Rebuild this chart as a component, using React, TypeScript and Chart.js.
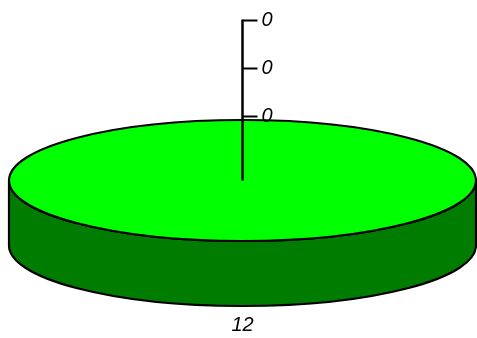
import React, { useEffect, useRef } from "react";
import { Chart, registerables } from "chart.js";

Chart.register(...registerables);

const categories = ["A", "B", "C", "D"];
const values = [12, 0, 0, 0];
const topColors = ["#00FF00", "#FF0000", "#0000FF", "#FFFF00"];
const sideColors = ["#007C00", "#7C0000", "#00007C", "#7C7C00"];

const SX = 233.5 / 157.5;
const SY = 60.5 / 157.5;
const SD = 65 / 157.5;

const pie3d = {
  id: "pie3d",
  afterDatasetsDraw(chart: any) {
    const ctx: CanvasRenderingContext2D = chart.ctx;
    const meta = chart.getDatasetMeta(0);
    const arcs = meta.data as any[];
    if (!arcs.length) return;
    const p0 = arcs[0].getProps(["x", "y", "outerRadius"], true);
    const cx = p0.x, cy = p0.y, R = p0.outerRadius;
    const rx = R * SX, ry = R * SY, depth = R * SD;
    ctx.save();
    ctx.lineWidth = 2.2;
    ctx.strokeStyle = "#000";
    ctx.lineJoin = "round";
    // sides (front half: angles 0..PI)
    arcs.forEach((arc, i) => {
      const p = arc.getProps(["startAngle", "endAngle"], true);
      if (p.endAngle - p.startAngle <= 0) return;
      for (const shift of [-2 * Math.PI, 0, 2 * Math.PI]) {
        const a = Math.max(p.startAngle, 0 + shift);
        const b = Math.min(p.endAngle, Math.PI + shift);
        if (b - a <= 1e-6) continue;
        ctx.beginPath();
        ctx.ellipse(cx, cy, rx, ry, 0, a, b, false);
        ctx.ellipse(cx, cy + depth, rx, ry, 0, b, a, true);
        ctx.closePath();
        ctx.fillStyle = sideColors[i % sideColors.length];
        ctx.fill();
        ctx.stroke();
      }
    });
    // tops
    arcs.forEach((arc, i) => {
      const p = arc.getProps(["startAngle", "endAngle"], true);
      const span = p.endAngle - p.startAngle;
      if (span <= 0) return;
      ctx.beginPath();
      if (span >= 2 * Math.PI - 1e-6) {
        ctx.ellipse(cx, cy, rx, ry, 0, 0, 2 * Math.PI);
      } else {
        ctx.moveTo(cx, cy);
        ctx.ellipse(cx, cy, rx, ry, 0, p.startAngle, p.endAngle, false);
        ctx.closePath();
      }
      ctx.fillStyle = topColors[i % topColors.length];
      ctx.fill();
      ctx.stroke();
    });
    // labels
    ctx.font = "italic 20px 'Liberation Sans', Arial, sans-serif";
    ctx.fillStyle = "#000";
    let zeroCount = 0;
    const zeroYs: number[] = [];
    arcs.forEach((arc, i) => {
      const p = arc.getProps(["startAngle", "endAngle"], true);
      const v = values[i];
      const mid = (p.startAngle + p.endAngle) / 2;
      if (v === 0) {
        const y = cy - ry - 3.5 - zeroCount * 48;
        zeroYs.push(y);
        zeroCount++;
        ctx.textAlign = "left";
        ctx.textBaseline = "middle";
        ctx.fillText(String(v), cx + 19, y);
      } else {
        const sin = Math.sin(mid);
        const y = cy + ry * sin + (sin > 0 ? depth : 0) + 19;
        ctx.textAlign = "center";
        ctx.textBaseline = "middle";
        ctx.fillText(String(v), cx + rx * Math.cos(mid), y);
      }
    });
    if (zeroYs.length) {
      const top = Math.min(...zeroYs);
      ctx.lineWidth = 2.5;
      ctx.beginPath();
      ctx.moveTo(cx, cy);
      ctx.lineTo(cx, top - 1);
      ctx.stroke();
      ctx.lineWidth = 2;
      zeroYs.forEach((y) => {
        ctx.beginPath();
        ctx.moveTo(cx, y);
        ctx.lineTo(cx + 15, y);
        ctx.stroke();
      });
    }
    ctx.restore();
  },
};

export default function App() {
  const ref = useRef<HTMLCanvasElement | null>(null);
  useEffect(() => {
    if (!ref.current) return;
    const chart = new Chart(ref.current, {
      type: "pie",
      data: {
        labels: categories,
        datasets: [
          {
            data: values,
            backgroundColor: "rgba(0,0,0,0)",
            borderWidth: 0,
          },
        ],
      },
      options: {
        animation: false,
        responsive: false,
        layout: { padding: { left: 8, right: 0, top: 23, bottom: 0 } },
        plugins: { legend: { display: false }, tooltip: { enabled: false } },
        events: [],
      },
      plugins: [pie3d],
    });
    return () => chart.destroy();
  }, []);
  return (
    <div style={{ position: "fixed", left: 0, top: 0, width: 477, height: 338, background: "#fff" }}>
      <canvas ref={ref} width={477} height={338} style={{ width: 477, height: 338 }} />
    </div>
  );
}
